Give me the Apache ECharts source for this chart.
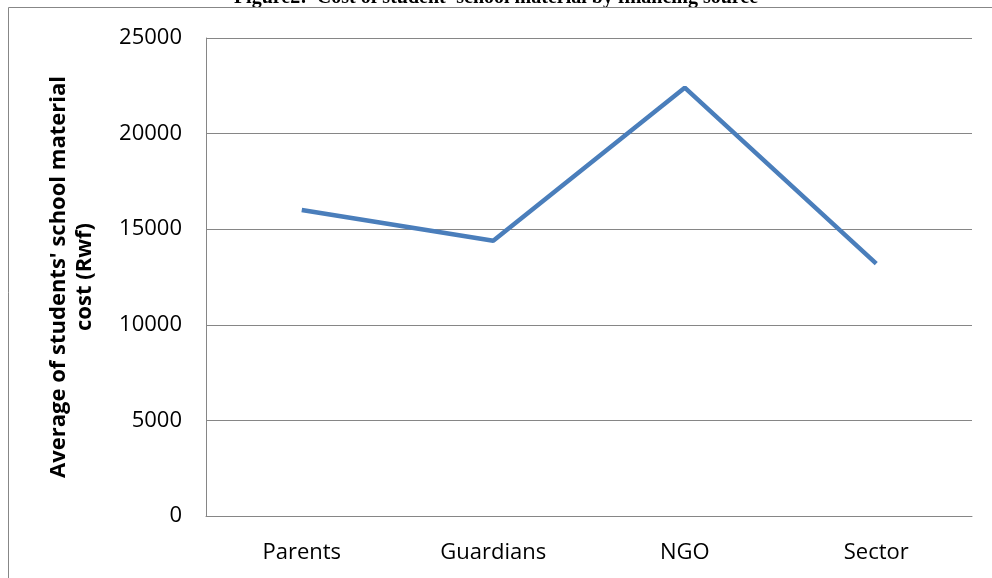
<!DOCTYPE html>
<html>
<head>
<meta charset="utf-8">
<script src="https://cdn.jsdelivr.net/npm/echarts@6/dist/echarts.min.js"></script>
<style>html,body{margin:0;padding:0;background:#fff;}#c{width:992px;height:578px;}</style>
</head>
<body>
<div id="c"></div>
<script>
const categories = ['Parents', 'Guardians', 'NGO', 'Sector'];
const costValues = [16000, 14400, 22400, 13200];
const yTicks = [0, 5000, 10000, 15000, 20000, 25000];
const titleText = "Figure2:  Cost of student' school material by financing source";
const yName = "Average of students' school material\ncost (Rwf)";

const chart = echarts.init(document.getElementById('c'));
chart.setOption({
  animation: false,
  backgroundColor: '#fff',
  graphic: [
    { type: 'text', left: 'center', top: -12, style: { text: titleText, font: 'bold 20px "Liberation Serif"', fill: '#000' } },
    { type: 'line', shape: { x1: 8.5, y1: 7.5, x2: 992, y2: 7.5 }, style: { stroke: '#878787', lineWidth: 1 } },
    { type: 'line', shape: { x1: 8.5, y1: 7.5, x2: 8.5, y2: 578 }, style: { stroke: '#878787', lineWidth: 1 } }
  ],
  grid: { left: 206, right: 20, top: 38, bottom: 62, containLabel: false },
  xAxis: {
    type: 'category',
    data: categories,
    boundaryGap: true,
    axisLine: { lineStyle: { color: '#868686', width: 1 } },
    axisTick: { show: false },
    axisLabel: { color: '#000', fontFamily: 'Open Sans, Liberation Sans', fontSize: 22, margin: 26 }
  },
  yAxis: {
    type: 'value',
    min: yTicks[0],
    max: yTicks[yTicks.length - 1],
    interval: 5000,
    name: yName,
    nameLocation: 'middle',
    nameRotate: 90,
    nameGap: 108,
    nameTextStyle: { color: '#000', fontFamily: 'Open Sans, Liberation Sans', fontWeight: 'bold', fontSize: 22, lineHeight: 26, align: 'center' },
    axisLine: { show: true, lineStyle: { color: '#868686', width: 1 } },
    axisTick: { show: false },
    splitLine: { lineStyle: { color: '#868686', width: 1 } },
    axisLabel: { color: '#000', fontFamily: 'Open Sans, Liberation Sans', fontSize: 22, margin: 24, formatter: v => String(v) }
  },
  series: [{
    type: 'line',
    data: costValues,
    symbol: 'none',
    lineStyle: { color: '#4A7EBB', width: 4.5 }
  }]
});
</script>
</body>
</html>
